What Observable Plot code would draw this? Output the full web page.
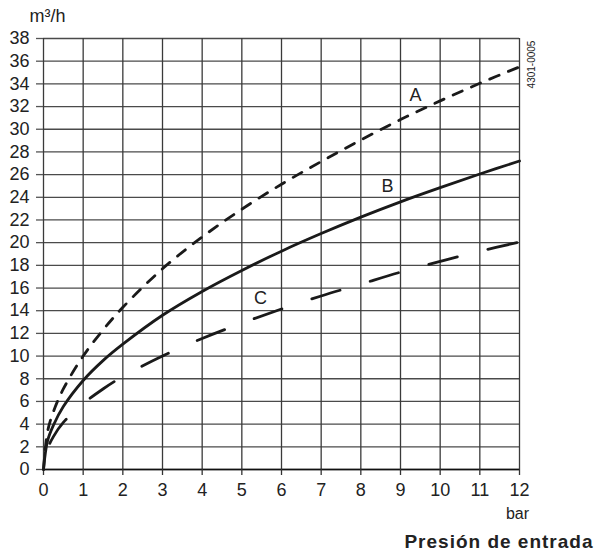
<!DOCTYPE html>
<html><head><meta charset="utf-8">
<script src="https://cdn.jsdelivr.net/npm/d3@7"></script>
<script src="https://cdn.jsdelivr.net/npm/@observablehq/plot@0.6"></script>
<style>body{margin:0;background:#fff;font-family:"Liberation Sans",Arial,sans-serif}
.spaced text{letter-spacing:1px}</style>
</head><body><div id="chart"></div>
<script>
const pressure = [0, 0.1, 0.25, 0.5, 1, 1.5, 2, 3, 4, 5, 6, 7, 8, 9, 10, 11, 12];
const flowA = [0, 3.3, 5.1, 7.1, 10.0, 12.3, 14.3, 17.7, 20.5, 22.95, 25.15, 27.15, 29.05, 30.85, 32.5, 34.05, 35.5];
const flowB = [0, 2.5, 3.9, 5.55, 7.85, 9.6, 11.05, 13.6, 15.7, 17.55, 19.25, 20.8, 22.25, 23.6, 24.85, 26.05, 27.2];
const flowC = [0, 1.8, 2.9, 4.15, 5.8, 7.1, 8.2, 10.0, 11.55, 12.9, 14.15, 15.3, 16.35, 17.4, 18.35, 19.25, 20.05];
const xTicks = [0,1,2,3,4,5,6,7,8,9,10,11,12];
const yTicks = [0,2,4,6,8,10,12,14,16,18,20,22,24,26,28,30,32,34,36,38];
const curveLabels = [{name:"A", x:9.38, y:32.98},{name:"B", x:8.67, y:24.96},{name:"C", x:5.47, y:15.08}];

const toRows = (ys) => pressure.map((p,i)=>({x:p, y:ys[i]}));
const rowsA = toRows(flowA), rowsB = toRows(flowB), rowsC = toRows(flowC);

const chart = Plot.plot({
  width: 602, height: 557,
  marginLeft: 43, marginRight: 83, marginTop: 38, marginBottom: 88,
  style: {fontFamily: "Liberation Sans, Arial, sans-serif", background: "#fff"},
  x: {type: "linear", domain: [0, 12], ticks: xTicks, label: null},
  y: {type: "linear", domain: [0, 38], ticks: yTicks, label: null},
  marks: [
    Plot.ruleY(yTicks, {stroke: "#4a4a4a", strokeWidth: 1.3}),
    Plot.ruleX(xTicks, {stroke: "#3a3a3a", strokeWidth: 1.3}),
    Plot.ruleY([0], {stroke: "#111", strokeWidth: 1.5}),
    Plot.axisX({ticks: xTicks, tickSize: 6, tickPadding: 8, fontSize: 18, stroke: "#333", strokeWidth: 1.3, color: "#222"}),
    Plot.axisY({ticks: yTicks, tickSize: 7, tickPadding: 7, fontSize: 18, stroke: "#555", strokeWidth: 1.3, color: "#222"}),
    Plot.line(rowsA, {x: "x", y: "y", curve: "catmull-rom", stroke: "#1a1a1a", strokeWidth: 2.8, strokeDasharray: "10,10"}),
    Plot.line(rowsB, {x: "x", y: "y", curve: "catmull-rom", stroke: "#1a1a1a", strokeWidth: 2.8}),
    Plot.line(rowsC, {x: "x", y: "y", curve: "catmull-rom", stroke: "#1a1a1a", strokeWidth: 2.8, strokeDasharray: "29.5,31.5", strokeDashoffset: 34}),
    Plot.text(curveLabels, {x: "x", y: "y", text: "name", fontSize: 18, fill: "#222"}),
    Plot.text(["m³/h"], {frameAnchor: "top-left", dx: 4, dy: -22, fontSize: 18, textAnchor: "middle", lineAnchor: "middle", fill: "#222"}),
    Plot.text(["bar"], {frameAnchor: "bottom-right", dx: -2, dy: 44, fontSize: 16, textAnchor: "middle", lineAnchor: "middle", fill: "#222"}),
    Plot.text(["Presión de entrada"], {frameAnchor: "bottom-right", dx: 74, dy: 72, fontSize: 19, fontWeight: "bold", textAnchor: "end", lineAnchor: "middle", fill: "#222", className: "spaced"}),
    Plot.text(["4301-0005"], {frameAnchor: "top-right", dx: 12, dy: 26, rotate: -90, fontSize: 10, textAnchor: "middle", lineAnchor: "middle", fill: "#222"})
  ]
});
document.getElementById("chart").appendChild(chart);
</script></body></html>
